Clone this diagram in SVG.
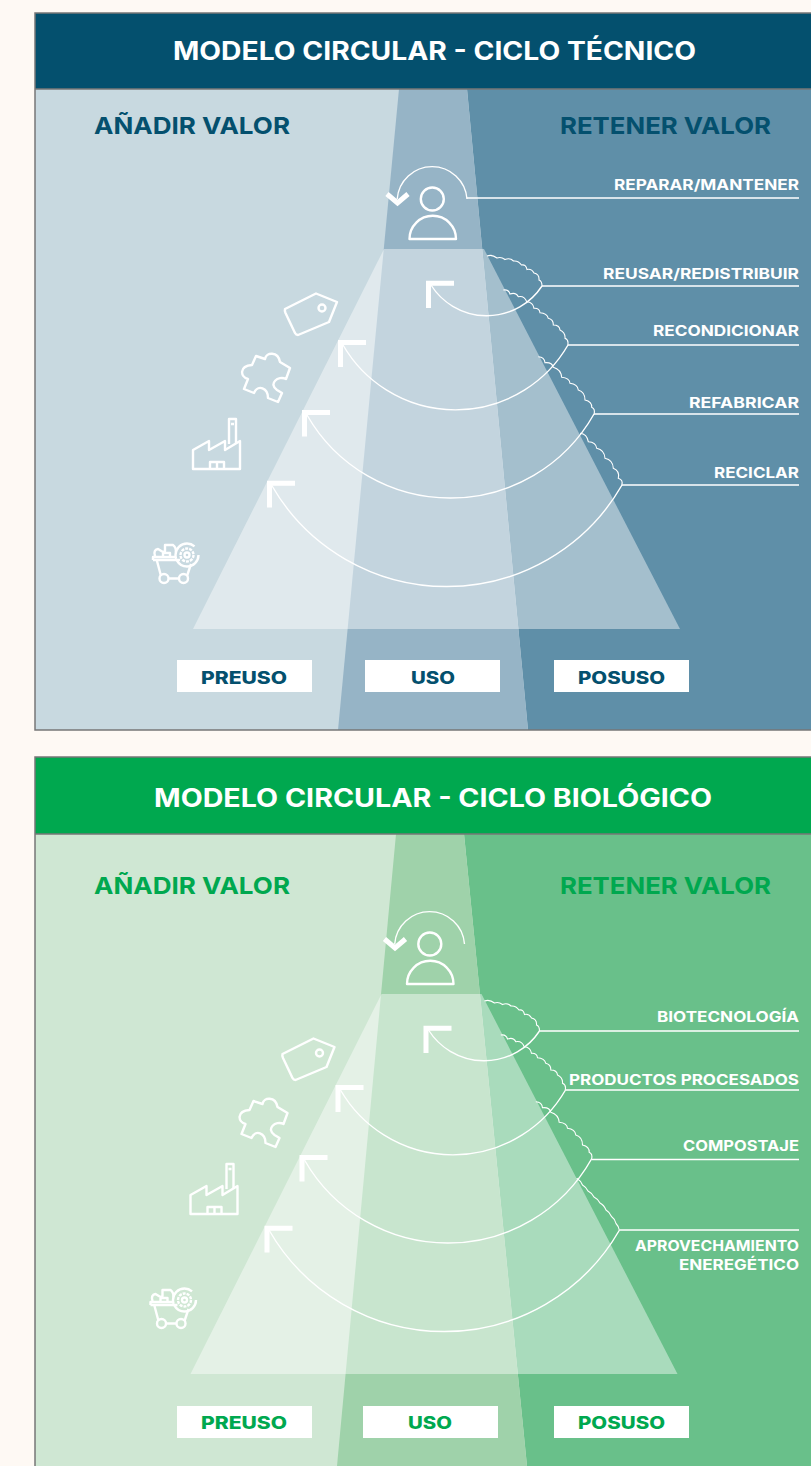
<svg xmlns="http://www.w3.org/2000/svg" xmlns:xlink="http://www.w3.org/1999/xlink" width="811" height="1466" viewBox="0 0 811 1466">
<style>
text{font-family:"Inter","Liberation Sans",sans-serif;font-weight:700}
.title{font-size:25px;fill:#fff}
.head{font-size:23.500px}
.lab{font-size:14.500px;fill:#fff}
.box{font-size:17px;font-weight:800}
.ln{fill:none;stroke:#fff;stroke-width:1.400}
.wv{fill:none;stroke:#fff;stroke-width:1.100}
.ar{fill:none;stroke:#fff;stroke-width:5}
.ic{fill:none;stroke:#fff;stroke-width:2.400;stroke-linejoin:round}
.blue{fill:#04506e}.green{fill:#00a84f}
.border{fill:none;stroke:#777;stroke-width:1.500}
</style>
<defs>
<g id="icons">
<g id="tag"><path class="ic" d="M285 309L316 293.500 337 302 329 322 298 335Q296 335 295 333L285.500 313Q284.500 310.500 285 309Z"/><circle class="ic" cx="322" cy="308" r="3.500"/></g>
<path id="puzzle" class="ic" d="M256 356L265 359C266 352 278 351 280 362L290 368 286 379C278 375 268 384 277 390L282 393 278 402 268 398C268 388 258 384 254 393L244 389 248 379C240 377 239 366 252 365Z"/>
<g id="factory"><path class="ic" d="M193 469V450L209 441V450L225 441V450L240 441V469Z"/><path class="ic" d="M229 444V419H236V443M231 424H234M210 469V462H224V469M217 462V469"/></g>
<g id="cart"><path class="ic" d="M153 560V557H176M153 560H180M157 561L161 576M191 564L187 576M168 578.500H179M155 556Q153 550 158 549L163 552 165 551V545H173Q176 547 176 552M163 556V553H170V556" stroke-width="2.800"/><circle class="ic" cx="164" cy="578.500" r="4.500"/><circle class="ic" cx="183.500" cy="578.500" r="4.500"/><circle class="ic" cx="187" cy="555" r="11.500" stroke-dasharray="30 2 30 10"/><circle class="ic" cx="187" cy="555" r="6.500" stroke-width="2.200" stroke-dasharray="3 1"/><circle class="ic" cx="187" cy="555" r="2.500" stroke-width="1.500"/></g>
<g id="person"><circle class="ic" cx="432.300" cy="199" r="11.500"/><path class="ic" d="M409.500 239A23.200 23.200 0 0 1 456 239Z"/></g>
</g>
<g id="arrows">
<path class="ar" d="M387 194L397.500 203 408 194"/>
<path class="ar" d="M454 283.200H428.500V308"/>
<path class="ar" d="M366 342.500H340.500V367"/>
<path class="ar" d="M330 412.500H304.500V436.500"/>
<path class="ar" d="M295 483.200H269.500V507.500"/>
<path class="ln" d="M467 199A35 35 0 0 0 397.200 199"/>
<path class="ln" d="M542 286A66 66 0 0 1 431 285"/>
<path class="ln" d="M568 345A130 130 0 0 1 343 345"/>
<path class="ln" d="M594 414A165 165 0 0 1 307 415"/>
<path class="ln" d="M622 485A202 202 0 0 1 271.500 485"/>
</g>
<g id="waves">
<path class="wv" d="M487 256Q492 254 497 258Q501 256.500 505 259.500Q510 257.500 513.500 261Q518.500 260.500 521.500 265Q526 264 527 269.500Q531.500 268.500 534 273Q539.500 274 539 280Q542 281 542 286"/>
<path class="wv" d="M503.300 290Q508.500 289 510 294Q516 292 518.300 296.700Q524.500 295.500 526.700 301.700Q533 302 534 308.300Q539.500 308 540 312.700Q547 313 548.300 318.300Q553.500 319.500 553.300 325Q559.500 325 560 330Q565.500 332.500 565 338.300Q569 340 567.700 345"/>
<path class="wv" d="M538.300 356.700Q544.500 357 545 362.700Q552 362 553.300 367.300Q561 369.500 561.700 377.300Q569.500 378 570 383.300Q577.500 384 578.300 390Q585 392 585 400Q592 401.500 591.700 407.300Q595.500 409 594 414.300"/>
</g>
</defs>

<rect width="811" height="1466" fill="#fef9f4"/>

<g id="panel-tecnico">
<rect x="35" y="13" width="776" height="717" fill="#c8d9e0"/>
<path d="M467 89H811V730H528Z" fill="#5f8fa8"/>
<path d="M399 89H467L528 730H338Z" fill="#96b4c6"/>
<path d="M384 249H484L680 629H193Z" fill="#fff" fill-opacity=".43"/>
<rect x="35" y="13" width="776" height="76" fill="#04506e"/>
<path class="border" d="M811 13H35V730H811M35 89H811"/>
<text class="title" x="173" y="60" textLength="523" lengthAdjust="spacingAndGlyphs">MODELO CIRCULAR - CICLO TÉCNICO</text>
<text class="head blue" x="94" y="134" textLength="196" lengthAdjust="spacingAndGlyphs">AÑADIR VALOR</text>
<text class="head blue" x="560" y="134" textLength="211" lengthAdjust="spacingAndGlyphs">RETENER VALOR</text>
<use href="#icons"/>
<g id="connectors-tecnico">
<use href="#arrows"/>
<use href="#waves"/>
<path class="wv" d="M580 433.300Q587 434 588.300 441.700Q596 442 596.700 448.300Q604.500 450 605 458.300Q613 460 613.300 468.300Q620 471 618.300 478.300Q623.500 480 621.700 485"/>
<path class="ln" d="M467 198H799M542 286H799M568 345H799M594 414H799M622 485H799"/>
</g>
<g id="labels-tecnico">
<text class="lab" x="614" y="190" textLength="185" lengthAdjust="spacingAndGlyphs">REPARAR/MANTENER</text>
<text class="lab" x="603" y="279" textLength="196" lengthAdjust="spacingAndGlyphs">REUSAR/REDISTRIBUIR</text>
<text class="lab" x="653" y="336" textLength="146" lengthAdjust="spacingAndGlyphs">RECONDICIONAR</text>
<text class="lab" x="689" y="408" textLength="110" lengthAdjust="spacingAndGlyphs">REFABRICAR</text>
<text class="lab" x="714" y="478" textLength="85" lengthAdjust="spacingAndGlyphs">RECICLAR</text>
</g>
<g id="stages-tecnico">
<rect x="177" y="660" width="135" height="32" fill="#fff"/><rect x="365" y="660" width="135" height="32" fill="#fff"/><rect x="554" y="660" width="135" height="32" fill="#fff"/>
<text class="box blue" x="201" y="684" textLength="86" lengthAdjust="spacingAndGlyphs">PREUSO</text>
<text class="box blue" x="411" y="684" textLength="44" lengthAdjust="spacingAndGlyphs">USO</text>
<text class="box blue" x="578" y="684" textLength="87" lengthAdjust="spacingAndGlyphs">POSUSO</text>
</g>
</g>

<g id="panel-biologico">
<rect x="35" y="757" width="776" height="709" fill="#cfe7d3"/>
<path d="M464 834H811V1466H527Z" fill="#69c08a"/>
<path d="M396 834H464L527 1466H337Z" fill="#9fd2aa"/>
<path d="M381.500 994H481.500L677.500 1374H190.500Z" fill="#fff" fill-opacity=".43"/>
<rect x="35" y="757" width="776" height="77" fill="#00a84f"/>
<path class="border" d="M811 757H35V1466M35 834H811"/>
<text class="title" x="154" y="807" textLength="558" lengthAdjust="spacingAndGlyphs">MODELO CIRCULAR - CICLO BIOLÓGICO</text>
<text class="head green" x="94" y="894" textLength="196" lengthAdjust="spacingAndGlyphs">AÑADIR VALOR</text>
<text class="head green" x="560" y="894" textLength="211" lengthAdjust="spacingAndGlyphs">RETENER VALOR</text>
<use href="#icons" transform="translate(-2.500 745)"/>
<g id="connectors-biologico">
<use href="#arrows" transform="translate(-2.500 745)"/>
<use href="#waves" transform="translate(-2.500 745)"/>
<path class="wv" d="M576.700 1178.300Q581 1181 582.500 1185Q586 1187 588 1191Q592 1193 594 1197Q598 1199 600 1203Q604 1205 606 1210Q609.500 1212 611.500 1216.500Q615 1219 616 1223.500Q618.500 1226 619.300 1230"/>
<path class="ln" d="M539.500 1031H799M565.500 1090H799M591.500 1159.500H799M619.500 1230H799"/>
</g>
<g id="labels-biologico">
<text class="lab" x="657" y="1022" textLength="142" lengthAdjust="spacingAndGlyphs">BIOTECNOLOGÍA</text>
<text class="lab" x="569" y="1085" textLength="230" lengthAdjust="spacingAndGlyphs">PRODUCTOS PROCESADOS</text>
<text class="lab" x="683" y="1151" textLength="116" lengthAdjust="spacingAndGlyphs">COMPOSTAJE</text>
<text class="lab" x="635" y="1251" textLength="164" lengthAdjust="spacingAndGlyphs">APROVECHAMIENTO</text>
<text class="lab" x="679" y="1270" textLength="120" lengthAdjust="spacingAndGlyphs">ENEREGÉTICO</text>
</g>
<g id="stages-biologico">
<rect x="177" y="1406" width="135" height="32" fill="#fff"/><rect x="363" y="1406" width="135" height="32" fill="#fff"/><rect x="554" y="1406" width="135" height="32" fill="#fff"/>
<text class="box green" x="201" y="1429" textLength="86" lengthAdjust="spacingAndGlyphs">PREUSO</text>
<text class="box green" x="408" y="1429" textLength="44" lengthAdjust="spacingAndGlyphs">USO</text>
<text class="box green" x="578" y="1429" textLength="87" lengthAdjust="spacingAndGlyphs">POSUSO</text>
</g>
</g>
</svg>
